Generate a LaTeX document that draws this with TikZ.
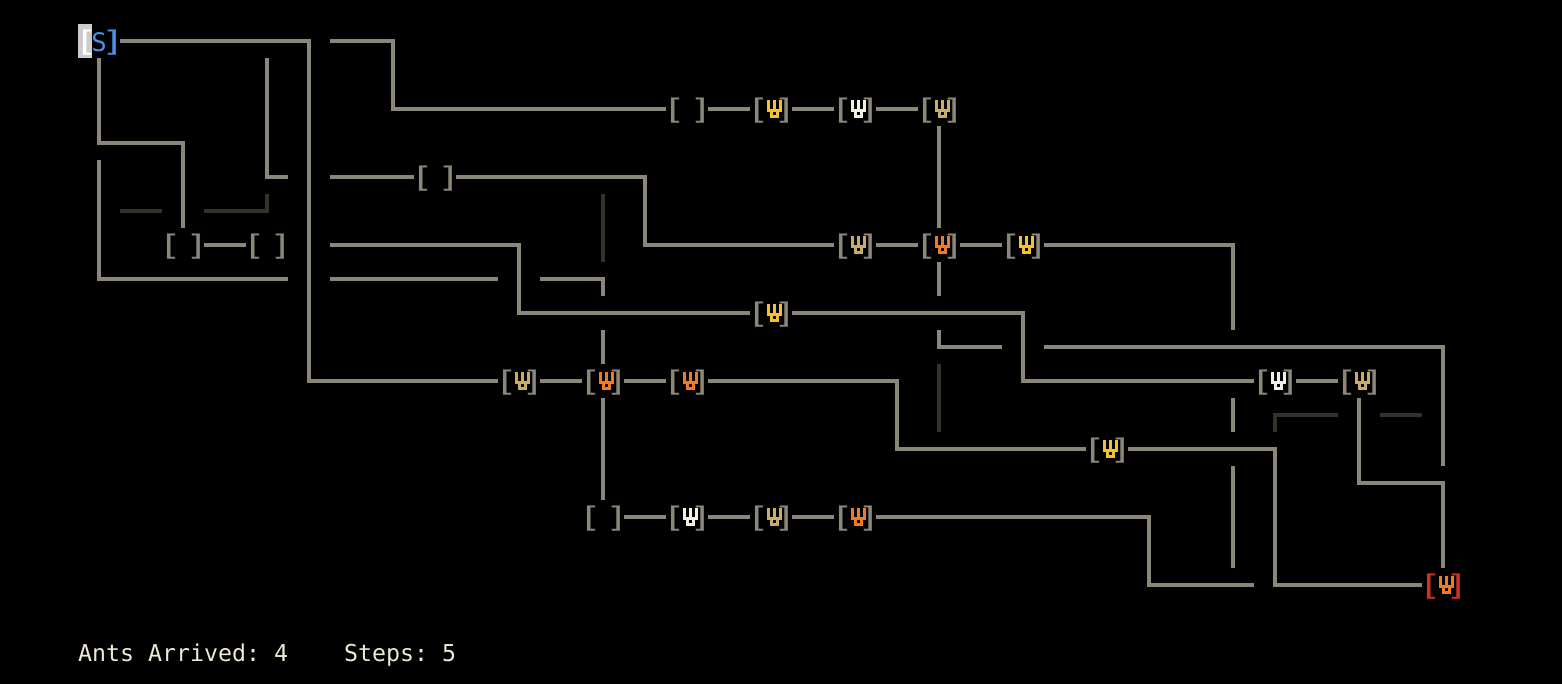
\documentclass[tikz,border=0pt]{standalone}
\usepackage{fontspec}
\usepackage{graphicx}
\setmonofont{DejaVu Sans Mono}
\usetikzlibrary{positioning}
\definecolor{wallc}{HTML}{8A8778}
\definecolor{dimc}{HTML}{33332A}
\definecolor{goldc}{HTML}{F5C22C}
\definecolor{whitec}{HTML}{F2F0E4}
\definecolor{tanc}{HTML}{C8AD62}
\definecolor{orangec}{HTML}{F07C22}
\definecolor{redc}{HTML}{D0321E}
\definecolor{bluec}{HTML}{4A90E8}
\definecolor{infoc}{HTML}{EEE8D5}
\newcommand{\lbrk}{\makebox[14pt][c]{\hspace{2pt}\scalebox{1.7}[1.22]{[}}}
\newcommand{\rbrk}{\makebox[14pt][c]{\scalebox{1.7}[1.22]{]}}}
\newcommand{\emptyroom}{\lbrk\makebox[14pt]{}\rbrk}
\begin{document}
\begin{tikzpicture}[x=1pt,y=-1pt,
  room/.style={inner sep=0pt, outer sep=0pt, minimum width=42pt, minimum height=34pt, text height=22pt, text depth=1.2pt, font=\fontsize{23.25}{34}\selectfont\ttfamily, text=wallc},
  wall/.style={line width=4pt, wallc},
  dimwall/.style={line width=4pt, dimc},
  ant/.pic={
    \draw[line width=3pt] (-3,-8.6) -- (-3,1.2) -- (9.8,1.2) -- (9.8,-8.6);
    \draw[line width=3pt] (3.4,-8.6) -- (3.4,1.2);
    \draw[line width=3pt] (0.4,1.2) -- (0.4,7.2) -- (6.4,7.2) -- (6.4,1.2);
  },
]
\useasboundingbox (0,0) rectangle (1562,684);
\fill[black] (0,0) rectangle (1562,684);

\node (cursor) [fill=black!20, minimum width=14pt, minimum height=34pt, inner sep=0pt] at (85,41) {};
\node (start) [room] at (99,41) {{\color{white}\lbrk}{\color{bluec}\makebox[14pt]{\scalebox{1.1}{S}}}{\color{bluec}\rbrk}};

\node (r1a) [room] at (687,109) {\emptyroom};
\node (r1b) [room] at (771,109) {\emptyroom};
\node (r1c) [room] at (855,109) {\emptyroom};
\node (r1d) [room] at (939,109) {\emptyroom};
\node (r2a) [room] at (435,177) {\emptyroom};
\node (r3a) [room] at (183,245) {\emptyroom};
\node (r3b) [room] at (267,245) {\emptyroom};
\node (r3c) [room] at (855,245) {\emptyroom};
\node (r3d) [room] at (939,245) {\emptyroom};
\node (r3e) [room] at (1023,245) {\emptyroom};
\node (r4a) [room] at (771,313) {\emptyroom};
\node (r5a) [room] at (519,381) {\emptyroom};
\node (r5b) [room] at (603,381) {\emptyroom};
\node (r5c) [room] at (687,381) {\emptyroom};
\node (r5d) [room] at (1275,381) {\emptyroom};
\node (r5e) [room] at (1359,381) {\emptyroom};
\node (r6a) [room] at (1107,449) {\emptyroom};
\node (r7a) [room] at (603,517) {\emptyroom};
\node (r7b) [room] at (687,517) {\emptyroom};
\node (r7c) [room] at (771,517) {\emptyroom};
\node (r7d) [room] at (855,517) {\emptyroom};
\node (goal) [room, text=redc] at (1443,585) {\emptyroom};

% ants
\pic[goldc] at (r1b) {ant};
\pic[whitec] at (r1c) {ant};
\pic[tanc] at (r1d) {ant};
\pic[tanc] at (r3c) {ant};
\pic[orangec] at (r3d) {ant};
\pic[goldc] at (r3e) {ant};
\pic[goldc] at (r4a) {ant};
\pic[tanc] at (r5a) {ant};
\pic[orangec] at (r5b) {ant};
\pic[orangec] at (r5c) {ant};
\pic[whitec] at (r5d) {ant};
\pic[tanc] at (r5e) {ant};
\pic[goldc] at (r6a) {ant};
\pic[whitec] at (r7b) {ant};
\pic[tanc] at (r7c) {ant};
\pic[orangec] at (r7d) {ant};
\pic[orangec] at (goal) {ant};

\coordinate (a1) at (99,160);   \coordinate (a2) at (288,279);
\coordinate (b1) at (267,58);   \coordinate (b2) at (288,177);
\coordinate (c1) at (330,41);
\coordinate (d1) at (330,177);
\coordinate (e1) at (1233,330);
\coordinate (f1) at (330,245);
\coordinate (g1) at (330,279);  \coordinate (g2) at (498,279);
\coordinate (h1) at (540,279);  \coordinate (h2) at (603,296);
\coordinate (i1) at (603,330);
\coordinate (j1) at (939,262);  \coordinate (j2) at (939,296);
\coordinate (k1) at (939,330);  \coordinate (k2) at (1002,347);
\coordinate (l1) at (1044,347); \coordinate (l2) at (1443,466);
\coordinate (m1) at (1233,398); \coordinate (m2) at (1233,432);
\coordinate (n1) at (1233,466); \coordinate (n2) at (1233,568);
\coordinate (o1) at (1254,585);

\draw[wall] (start.east) -- (309,41) -- (309,381) -- (r5a.west);
\draw[wall] (start.south) -- (99,143) -- (183,143) -- (r3a.north);
\draw[wall] (a1) -- (99,279) -- (a2);
\draw[wall] (b1) -- (267,177) -- (b2);
\draw[wall] (c1) -- (393,41) -- (393,109) -- (r1a.west);
\draw[wall] (r1a) -- (r1b);
\draw[wall] (r1b) -- (r1c);
\draw[wall] (r1c) -- (r1d);
\draw[wall] (r1d) -- (r3d);
\draw[wall] (d1) -- (r2a.west);
\draw[wall] (r2a.east) -- (645,177) -- (645,245) -- (r3c.west);
\draw[wall] (r3a) -- (r3b);
\draw[wall] (r3c) -- (r3d);
\draw[wall] (r3d) -- (r3e);
\draw[wall] (r3e.east) -- (1233,245) -- (e1);
\draw[wall] (f1) -- (519,245) -- (519,313) -- (r4a.west);
\draw[wall] (g1) -- (g2);
\draw[wall] (h1) -- (603,279) -- (h2);
\draw[wall] (i1) -- (r5b.north);
\draw[wall] (r5a) -- (r5b);
\draw[wall] (r5b) -- (r5c);
\draw[wall] (r5c.east) -- (897,381) -- (897,449) -- (r6a.west);
\draw[wall] (r4a.east) -- (1023,313) -- (1023,381) -- (r5d.west);
\draw[wall] (j1) -- (j2);
\draw[wall] (k1) -- (939,347) -- (k2);
\draw[wall] (l1) -- (1443,347) -- (l2);
\draw[wall] (r5d) -- (r5e);
\draw[wall] (r5e.south) -- (1359,483) -- (1443,483) -- (goal.north);
\draw[wall] (m1) -- (m2);
\draw[wall] (n1) -- (n2);
\draw[wall] (r6a.east) -- (1275,449) -- (1275,585) -- (goal.west);
\draw[wall] (r5b) -- (r7a);
\draw[wall] (r7a) -- (r7b);
\draw[wall] (r7b) -- (r7c);
\draw[wall] (r7c) -- (r7d);
\draw[wall] (r7d.east) -- (1149,517) -- (1149,585) -- (o1);

\coordinate (p1) at (120,211);  \coordinate (p2) at (162,211);
\coordinate (q1) at (204,211);  \coordinate (q2) at (267,194);
\coordinate (s1) at (603,194);  \coordinate (s2) at (603,262);
\coordinate (t1) at (939,364);  \coordinate (t2) at (939,432);
\coordinate (u1) at (1275,432); \coordinate (u2) at (1338,415);
\coordinate (v1) at (1380,415); \coordinate (v2) at (1422,415);
\draw[dimwall] (p1) -- (p2);
\draw[dimwall] (q1) -- (267,211) -- (q2);
\draw[dimwall] (s1) -- (s2);
\draw[dimwall] (t1) -- (t2);
\draw[dimwall] (u1) -- (1275,415) -- (u2);
\draw[dimwall] (v1) -- (v2);

\node (info) [anchor=base west, inner sep=0pt, text=infoc, font=\fontsize{23.25}{34}\selectfont\ttfamily] at (78,661.5) {Ants Arrived: 4~~~~Steps: 5};
\end{tikzpicture}
\end{document}
